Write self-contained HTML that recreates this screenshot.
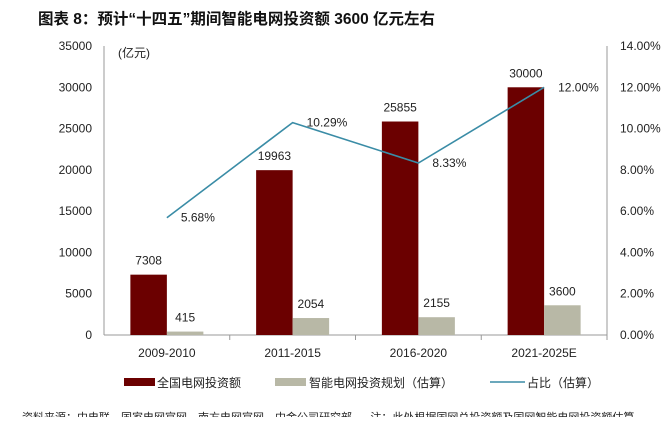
<!DOCTYPE html>
<html><head><meta charset="utf-8"><style>
body{margin:0;background:#fff;width:662px;height:417px;overflow:hidden;font-family:"Liberation Sans","Noto Sans CJK SC",sans-serif;}
svg text{font-family:"Liberation Sans","Noto Sans CJK SC",sans-serif;}
</style></head><body>
<svg id="chart" width="662" height="417">
<text x="38" y="24" font-size="15.5" font-weight="bold" fill="#111">图表 8：预计“十四五”期间智能电网投资额 3600 亿元左右</text>
<text x="118" y="57" font-size="12" fill="#222">(亿元)</text>
<g id="axes"></g><g id="marks"></g>
<g>
<rect x="124" y="378" width="31" height="8" fill="#6b0000"/>
<text x="157" y="387" font-size="12" fill="#222">全国电网投资额</text>
<rect x="275" y="378" width="31" height="8" fill="#b8b8a6"/>
<text x="309" y="387" font-size="12" fill="#222">智能电网投资规划（估算）</text>
<line x1="490" y1="382" x2="525" y2="382" stroke="#3a8ca6" stroke-width="1.5"/>
<text x="527" y="387" font-size="12" fill="#222">占比（估算）</text>
</g>
<text x="22" y="421" font-size="11" fill="#222" xml:space="preserve">资料来源：中电联，国家电网官网，南方电网官网，中金公司研究部      注：此处根据国网总投资额及国网智能电网投资额估算</text>
</svg>
<script>
const categories=["2009-2010","2011-2015","2016-2020","2021-2025E"];
const totalInvest=[7308,19963,25855,30000];
const smartInvest=[415,2054,2155,3600];
const ratio=[5.68,10.29,8.33,12.00];
const leftTicks=[0,5000,10000,15000,20000,25000,30000,35000];
const rightTicks=[0,2,4,6,8,10,12,14];
const NS="http://www.w3.org/2000/svg";
const x0=104,x1=607,yb=335,yt=46;
const band=(x1-x0)/categories.length;
const yL=v=>yb-v/35000*(yb-yt);
const yR=v=>yb-v/14*(yb-yt);
const cx=i=>x0+band*(i+0.5);
function mk(p,t,a){const e=document.createElementNS(NS,t);for(const k in a)e.setAttribute(k,a[k]);p.appendChild(e);return e;}
const ax=document.getElementById('axes'),mg=document.getElementById('marks');
let e=mk(ax,'line',{x1:x0,y1:yt,x2:x0,y2:yb,stroke:'#999'});


e=mk(ax,'line',{x1:x1,y1:yt,x2:x1,y2:yb,stroke:'#999'});


e=mk(ax,'line',{x1:x0,y1:yb,x2:x1,y2:yb,stroke:'#999'});


leftTicks.forEach(v=>{const t=mk(ax,'text',{x:x0-12,y:yL(v)+4,'text-anchor':'end','font-size':12,fill:'#222'});t.textContent=v;

});
rightTicks.forEach(v=>{const t=mk(ax,'text',{x:x1+13,y:yR(v)+4,'font-size':12,fill:'#222'});t.textContent=v.toFixed(2)+'%';

});
categories.forEach((c,i)=>{const t=mk(ax,'text',{x:cx(i),y:yb+22,'text-anchor':'middle','font-size':12,fill:'#222'});t.textContent=c;


const tk=mk(ax,'line',{x1:x0+band*(i+1),y1:yb,x2:x0+band*(i+1),y2:yb+5,stroke:'#999'});

});
const bw=36.5;
totalInvest.forEach((v,i)=>{const r=mk(mg,'rect',{x:cx(i)-bw,y:yL(v),width:bw,height:yb-yL(v),fill:'#6b0000'});


const t=mk(mg,'text',{x:cx(i)-bw/2,y:yL(v)-10,'text-anchor':'middle','font-size':12,fill:'#222'});t.textContent=v;

});
smartInvest.forEach((v,i)=>{const r=mk(mg,'rect',{x:cx(i),y:yL(v),width:bw,height:yb-yL(v),fill:'#b8b8a6'});


const t=mk(mg,'text',{x:cx(i)+bw/2,y:yL(v)-10,'text-anchor':'middle','font-size':12,fill:'#222'});t.textContent=v;

});
const pl=mk(mg,'polyline',{points:ratio.map((v,i)=>cx(i)+','+yR(v)).join(' '),fill:'none',stroke:'#3a8ca6','stroke-width':1.6});


ratio.forEach((v,i)=>{const t=mk(mg,'text',{x:cx(i)+14,y:yR(v)+4,'font-size':12,fill:'#222'});t.textContent=v.toFixed(2)+'%';

});
</script>
</body></html>
